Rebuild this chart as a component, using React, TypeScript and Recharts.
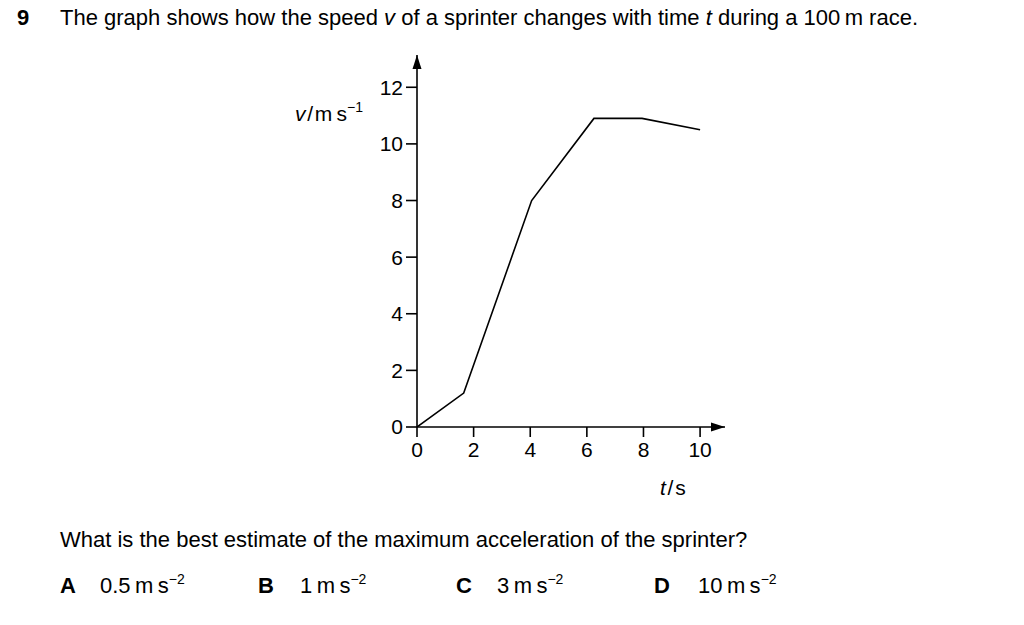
import React from "react";
import { LineChart, Line, XAxis, YAxis, ReferenceDot } from "recharts";

const times = [0, 1.65, 4.05, 6.25, 7.95, 10];
const speeds = [0, 1.2, 8, 10.9, 10.9, 10.5];
const xTicks = [0, 2, 4, 6, 8, 10];
const yTicks = [0, 2, 4, 6, 8, 10, 12];
const xMax = 10.88;
const yMax = 13.14;

const data = times.map((t, i) => ({ t, v: speeds[i] }));

const FONT = "'Liberation Sans', Arial, sans-serif";

const ArrowRight = (props: any) => {
  const { cx, cy } = props;
  return <path d={`M${cx},${cy} L${cx - 14},${cy - 4.5} L${cx - 14},${cy + 4.5} Z`} fill="#000" />;
};
const ArrowUp = (props: any) => {
  const { cx, cy } = props;
  return <path d={`M${cx},${cy} L${cx - 4.5},${cy + 14} L${cx + 4.5},${cy + 14} Z`} fill="#000" />;
};

const Opt = ({ x, lx, letter, num }: { x: number; lx: number; letter: string; num: string }) => (
  <>
    <text x={x} y={593} fontWeight="bold">{letter}</text>
    <text x={lx} y={593}>
      {num}{"\u2009m\u2009s"}
      <tspan dy={-9} fontSize={14}>{"\u22122"}</tspan>
    </text>
  </>
);

export default function App() {
  return (
    <div style={{ position: "absolute", left: 0, top: 0, width: 1024, height: 625, background: "#fff" }}>
      <LineChart
        width={1024}
        height={625}
        data={data}
        margin={{ top: 55, right: 299, left: 357, bottom: 168 }}
      >
        <XAxis
          dataKey="t"
          type="number"
          domain={[0, xMax]}
          ticks={xTicks}
          allowDataOverflow
          height={30}
          tickSize={10}
          tickMargin={5}
          axisLine={{ stroke: "#000", strokeWidth: 1.6 }}
          tickLine={{ stroke: "#000", strokeWidth: 1.6 }}
          tick={{ fill: "#000", fontSize: 21, fontFamily: FONT }}
        />
        <YAxis
          dataKey="v"
          type="number"
          domain={[0, yMax]}
          ticks={yTicks}
          allowDataOverflow
          width={60}
          tickSize={11}
          tickMargin={3}
          axisLine={{ stroke: "#000", strokeWidth: 1.6 }}
          tickLine={{ stroke: "#000", strokeWidth: 1.6 }}
          tick={{ fill: "#000", fontSize: 21, fontFamily: FONT }}
        />
        <Line
          type="linear"
          dataKey="v"
          stroke="#000"
          strokeWidth={1.6}
          dot={false}
          isAnimationActive={false}
        />
        <ReferenceDot x={xMax} y={0} shape={ArrowRight} ifOverflow="visible" />
        <ReferenceDot x={0} y={yMax} shape={ArrowUp} ifOverflow="visible" />
      </LineChart>
      <svg
        width={1024}
        height={625}
        style={{ position: "absolute", left: 0, top: 0, pointerEvents: "none" }}
        fontFamily={FONT}
        fontSize={22}
        fill="#000"
      >
        <text x={17} y={25} fontWeight="bold">9</text>
        <text x={60} y={25}>
          The graph shows how the speed <tspan fontStyle="italic">v</tspan> of a sprinter changes with time{" "}
          <tspan fontStyle="italic">t</tspan> during a 100{"\u2009"}m race.
        </text>
        <text x={295} y={121} fontSize={21}>
          <tspan fontStyle="italic">v</tspan>{"\u200A/\u200Am\u2009s"}
          <tspan dy={-9} fontSize={14}>{"\u22121"}</tspan>
        </text>
        <text x={660} y={495} fontSize={21}>
          <tspan fontStyle="italic">t</tspan>{"\u200A/\u200As"}
        </text>
        <text x={60} y={547}>What is the best estimate of the maximum acceleration of the sprinter?</text>
        <Opt x={60} lx={100} letter="A" num="0.5" />
        <Opt x={258} lx={300} letter="B" num="1" />
        <Opt x={456} lx={497} letter="C" num="3" />
        <Opt x={654} lx={698} letter="D" num="10" />
      </svg>
    </div>
  );
}
